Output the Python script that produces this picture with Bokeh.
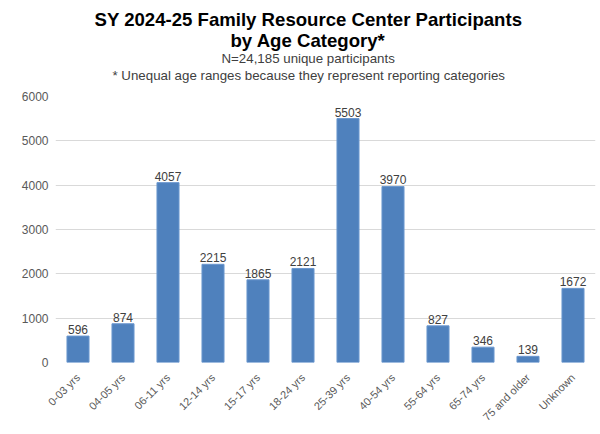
from bokeh.plotting import figure
from bokeh.models import ColumnDataSource, Title, FactorRange
from bokeh.embed import file_html
from bokeh.resources import INLINE
from bokeh.core.properties import value
import math

categories = ["0-03 yrs", "04-05 yrs", "06-11 yrs", "12-14 yrs", "15-17 yrs", "18-24 yrs",
              "25-39 yrs", "40-54 yrs", "55-64 yrs", "65-74 yrs", "75 and older", "Unknown"]
participants = [596, 874, 4057, 2215, 1865, 2121, 5503, 3970, 827, 346, 139, 1672]
y_ticks = [0, 1000, 2000, 3000, 4000, 5000, 6000]

title_line1 = "SY 2024-25 Family Resource Center Participants"
title_line2 = "by Age Category*"
subtitle1 = "N=24,185 unique participants"
subtitle2 = "* Unequal age ranges because they represent reporting categories"

FONT = "Liberation Sans"

source = ColumnDataSource(data=dict(
    cat=categories,
    val=participants,
    lbl=[str(v) for v in participants],
))

p = figure(
    width=600, height=434,
    x_range=FactorRange(factors=categories),
    y_range=(0, 6000),
    output_backend="svg",
    toolbar_location=None,
    title=None,
    min_border_left=55, min_border_right=5,
    min_border_bottom=72, min_border_top=96,
)

# spacer between the title block and the plot area (first added = nearest the plot)
p.add_layout(Title(text=" ", text_font_size="1px", standoff=11), "above")

# titles (last added = top-most); left-aligned with offsets so they centre on the chart box
for txt, size, style, stand, off in [
    (subtitle2, "13.3px", "normal", 0, 57),
    (subtitle1, "13.3px", "normal", 0, 166),
    (title_line2, "18.6px", "bold", -4, 175),
    (title_line1, "18.6px", "bold", 0, 39),
]:
    p.add_layout(Title(text=txt, align="left", offset=off, text_font_size=size,
                       text_font_style=style, text_font=FONT,
                       text_color="#000000" if style == "bold" else "#404040",
                       standoff=stand), "above")

p.vbar(x="cat", top="val", width=0.49, source=source,
       fill_color="#4F81BD", line_color="#6b97cf", line_width=1)

p.text(x="cat", y="val", text="lbl", source=source,
       text_align="center", text_baseline="bottom", y_offset=-2,
       text_font_size="12px", text_color="#404040", text_font=value(FONT))

p.outline_line_color = None
p.background_fill_color = "white"
p.border_fill_color = "white"

p.xgrid.grid_line_color = None
p.ygrid.grid_line_color = "#d9d9d9"
p.ygrid.grid_line_width = 1
p.yaxis.ticker = y_ticks

for ax in (p.xaxis[0], p.yaxis[0]):
    ax.axis_line_color = None
    ax.major_tick_line_color = None
    ax.minor_tick_line_color = None
    ax.major_tick_out = 0
    ax.major_tick_in = 0
    ax.minor_tick_out = 0
    ax.minor_tick_in = 0
    ax.major_label_text_font = FONT
    ax.major_label_text_color = "#595959"

p.yaxis.major_label_text_font_size = "12px"
p.xaxis.major_label_text_font_size = "11px"
p.yaxis.major_label_standoff = 7
p.xaxis.major_label_orientation = math.pi / 4
p.xaxis.major_label_standoff = 13
p.x_range.range_padding = 0

open("out.html", "w").write(file_html(p, INLINE))
